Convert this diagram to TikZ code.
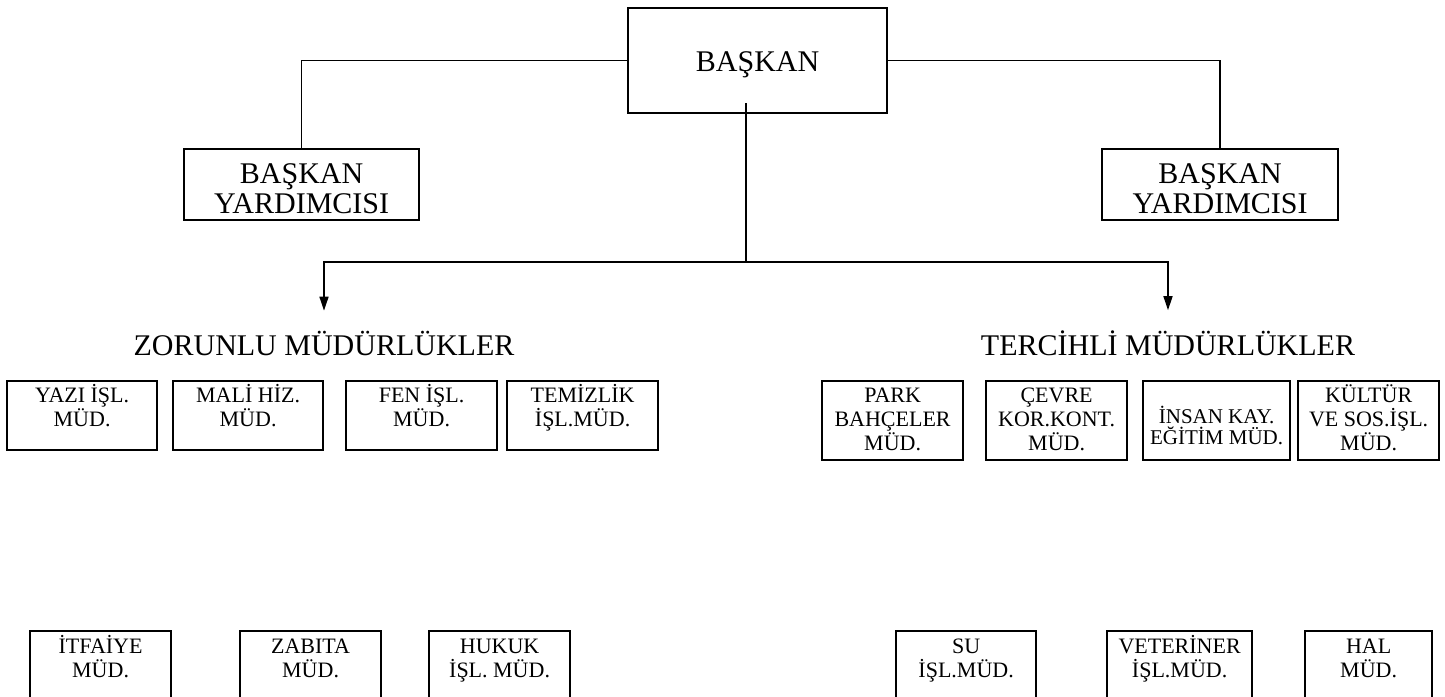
\documentclass[tikz,border=0pt]{standalone}
\usepackage{fontspec}
\setmainfont{Liberation Serif}
\usetikzlibrary{arrows.meta}
\newcommand{\kutuyazi}[4]{\parbox[c][#2][t]{#1}{\centering\rule{0pt}{#3}#4}}

\begin{document}
\begin{tikzpicture}
  [x=0.5pt,y=-0.5pt,
   kutu/.style={draw,line width=1.1pt,inner sep=0pt,anchor=north west,font=\fontsize{11}{12}\selectfont},
   buyukkutu/.style={kutu,font=\fontsize{15}{15}\selectfont},
   baslik/.style={anchor=base,font=\fontsize{15}{15}\selectfont},
   hat/.style={line width=0.8pt}]
  \useasboundingbox (0,0) rectangle (1445,696);
  \clip (0,0) rectangle (1445,696);

  \node[buyukkutu] (baskan) at (627,7)  {\kutuyazi{129.5pt}{52.5pt}{31.5pt}{BAŞKAN}};
  \node[buyukkutu] (byl) at (183,148)   {\kutuyazi{117.5pt}{35.5pt}{17pt}{BAŞKAN\\YARDIMCISI}};
  \node[buyukkutu] (byr) at (1101,148)  {\kutuyazi{118pt}{35.5pt}{17pt}{BAŞKAN\\YARDIMCISI}};

  \node[baslik] (zor) at (324,355)  {ZORUNLU MÜDÜRLÜKLER};
  \node[baslik] (ter) at (1168,355) {TERCİHLİ MÜDÜRLÜKLER};

  \node[kutu] (yazi) at (6,380)     {\kutuyazi{75pt}{34.5pt}{10.5pt}{YAZI İŞL.\\MÜD.}};
  \node[kutu] (mali) at (172,380)   {\kutuyazi{75pt}{34.5pt}{10.5pt}{MALİ HİZ.\\MÜD.}};
  \node[kutu] (fen) at (345,380)    {\kutuyazi{75.5pt}{34.5pt}{10.5pt}{FEN İŞL.\\MÜD.}};
  \node[kutu] (temiz) at (506,380)  {\kutuyazi{75.5pt}{34.5pt}{10.5pt}{TEMİZLİK\\İŞL.MÜD.}};

  \node[kutu] (park) at (821,380)   {\kutuyazi{70.5pt}{39.5pt}{10.5pt}{PARK\\BAHÇELER\\MÜD.}};
  \node[kutu] (cevre) at (985,380)  {\kutuyazi{70.5pt}{39.5pt}{10.5pt}{ÇEVRE\\KOR.KONT.\\MÜD.}};
  \node[kutu,font=\fontsize{10.5}{10.5}\selectfont] (insan) at (1142,380)
    {\kutuyazi{73.5pt}{39.5pt}{21pt}{İNSAN KAY.\\EĞİTİM MÜD.}};
  \node[kutu] (kultur) at (1297,380){\kutuyazi{70.5pt}{39.5pt}{10.5pt}{KÜLTÜR\\VE SOS.İŞL.\\MÜD.}};

  \node[kutu] (itfaiye) at (29,630)  {\kutuyazi{70.5pt}{40pt}{11pt}{İTFAİYE\\MÜD.}};
  \node[kutu] (zabita) at (239,630)  {\kutuyazi{70.5pt}{40pt}{11pt}{ZABITA\\MÜD.}};
  \node[kutu] (hukuk) at (428,630)   {\kutuyazi{70.5pt}{40pt}{11pt}{HUKUK\\İŞL. MÜD.}};
  \node[kutu] (su) at (895,630)      {\kutuyazi{70pt}{40pt}{11pt}{SU\\İŞL.MÜD.}};
  \node[kutu] (veter) at (1106,630)  {\kutuyazi{72.5pt}{40pt}{11pt}{VETERİNER\\İŞL.MÜD.}};
  \node[kutu] (hal) at (1304,630)    {\kutuyazi{63.5pt}{40pt}{11pt}{HAL\\MÜD.}};

  \coordinate (kok) at (746,103);
  \coordinate (hub) at (746,262);

  \draw[hat] (baskan.west) -| (byl.north);
  \draw[hat] (baskan.east) -| (byr.north);
  \draw[hat] (kok) -- (hub);
  \foreach \hedef in {zor,ter}
    \draw[hat,-{Triangle[length=7pt,width=4.5pt]},shorten >=6.5pt] (hub) -| (\hedef.north);
\end{tikzpicture}
\end{document}
